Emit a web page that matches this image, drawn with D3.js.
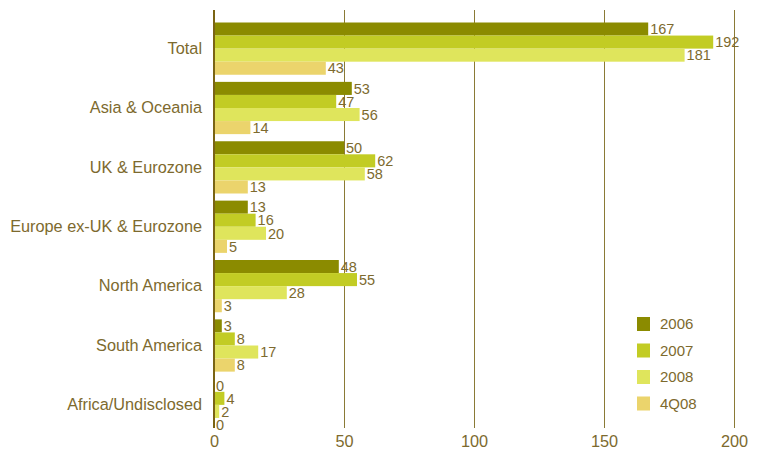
<!DOCTYPE html>
<html>
<head>
<meta charset="utf-8">
<script src="https://cdn.jsdelivr.net/npm/d3@7"></script>
<style>
  body { margin: 0; background: #fff; }
  svg { display: block; }
  svg text { font-family: "Liberation Sans", Arial, Helvetica, sans-serif; }
</style>
</head>
<body>
<svg id="chart" width="759" height="449"></svg>
<script>
// Regions (rows) and the four periods (bars within each row)
const regions = ["Total", "Asia & Oceania", "UK & Eurozone", "Europe ex-UK & Eurozone",
                 "North America", "South America", "Africa/Undisclosed"];
const periods = ["2006", "2007", "2008", "4Q08"];

const values2006 = [167, 53, 50, 13, 48, 3, 0];
const values2007 = [192, 47, 62, 16, 55, 8, 4];
const values2008 = [181, 56, 58, 20, 28, 17, 2];
const values4Q08 = [43, 14, 13, 5, 3, 8, 0];

const xTicks = [0, 50, 100, 150, 200];
const periodColors = ["#8b8b00", "#c2cc24", "#dfe55c", "#ebd46c"];

const seriesValues = [values2006, values2007, values2008, values4Q08];
const rows = regions.map((r, i) => ({
  region: r,
  bars: periods.map((p, j) => ({ period: p, value: seriesValues[j][i] }))
}));

const textColor = "#7d6a2e";
const svg = d3.select("#chart");

const plotTop = 10, plotBottom = 428;
const x = d3.scaleLinear().domain([0, 200]).range([214, 734]);
const y0 = d3.scaleBand().domain(regions).range([22.5, 431]).paddingInner(0.12).paddingOuter(0);
const y1 = d3.scaleBand().domain(periods).range([0, y0.bandwidth()]).padding(0);
const color = d3.scaleOrdinal().domain(periods).range(periodColors);

// Vertical gridlines
svg.append("g")
  .selectAll("line")
  .data(xTicks.filter(d => d > 0))
  .join("line")
  .attr("x1", d => x(d) + 0.5).attr("x2", d => x(d) + 0.5)
  .attr("y1", plotTop).attr("y2", plotBottom)
  .attr("stroke", "#8a7a36").attr("stroke-width", 1);

// Bars
const groups = svg.append("g")
  .selectAll("g")
  .data(rows)
  .join("g")
  .attr("transform", d => `translate(0,${y0(d.region)})`);

groups.selectAll("rect")
  .data(d => d.bars)
  .join("rect")
  .attr("x", x(0))
  .attr("y", d => y1(d.period))
  .attr("width", d => x(d.value) - x(0))
  .attr("height", y1.bandwidth())
  .attr("fill", d => color(d.period));

// Value labels
groups.selectAll("text")
  .data(d => d.bars)
  .join("text")
  .attr("x", d => x(d.value) + 2)
  .attr("y", d => y1(d.period) + y1.bandwidth() / 2)
  .attr("dy", "0.36em")
  .attr("font-size", 14.5)
  .attr("fill", textColor)
  .text(d => d.value);

// Region labels
const yAxis = d3.axisLeft(y0).tickSize(0).tickPadding(12);
const yg = svg.append("g").attr("transform", `translate(${x(0)},0)`).call(yAxis)
  .attr("font-family", null).attr("font-size", null);
yg.select(".domain").remove();
yg.selectAll("text").attr("font-size", 16.3).attr("fill", textColor);

// Baseline axis line
svg.append("line")
  .attr("x1", x(0)).attr("x2", x(0))
  .attr("y1", plotTop).attr("y2", plotBottom)
  .attr("stroke", "#7a6414").attr("stroke-width", 2);

// X axis tick labels
const xAxis = d3.axisBottom(x).tickValues(xTicks).tickSize(0).tickPadding(7);
const xg = svg.append("g").attr("transform", `translate(0,${plotBottom})`).call(xAxis)
  .attr("font-family", null).attr("font-size", null);
xg.select(".domain").remove();
xg.selectAll("text").attr("font-size", 16.3).attr("fill", textColor);

// Legend
const legend = svg.append("g").attr("transform", "translate(637,317)");
const items = legend.selectAll("g")
  .data(periods)
  .join("g")
  .attr("transform", (d, i) => `translate(0,${i * 26.5})`);
items.append("rect")
  .attr("width", 13).attr("height", 14)
  .attr("fill", d => color(d));
items.append("text")
  .attr("x", 23).attr("y", 7).attr("dy", "0.36em")
  .attr("font-size", 15).attr("fill", textColor)
  .text(d => d);
</script>
</body>
</html>
